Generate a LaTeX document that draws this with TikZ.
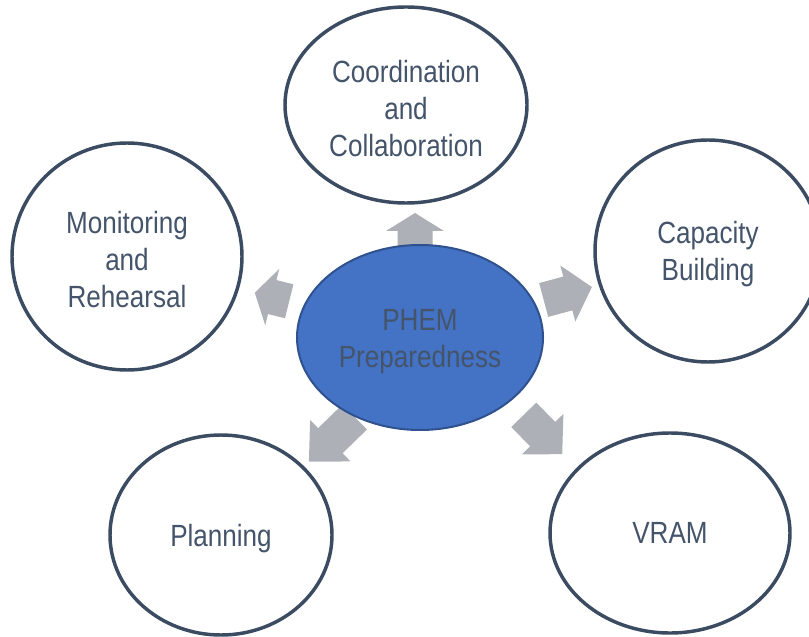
\documentclass[tikz,border=0pt]{standalone}
\usepackage{fontspec}
\setmainfont{Liberation Sans}[FakeStretch=0.85]
\usepackage{tikz}
\usetikzlibrary{shapes.geometric, backgrounds}
\definecolor{mytext}{HTML}{44546A}
\definecolor{myring}{HTML}{3B4B61}
\definecolor{myhub}{HTML}{4472C4}
\definecolor{myhubline}{HTML}{2F528F}
\definecolor{myarrow}{HTML}{ADB0B7}
\tikzset{
  x=0.75pt, y=0.75pt,
  topic/.style={ellipse,draw=myring,line width=2.6pt,fill=white,inner sep=0,
    text=mytext,align=center,font=\fontsize{23}{27.75}\selectfont},
  hub/.style={topic,fill=myhub,draw=myhubline,line width=1.5pt},
  arrow fill/.style={fill=myarrow}
}
\newcommand{\tl}{\rule{0pt}{0.95em}} % lowers the text a little
% block arrow: centre, angle, length, head length
\newcommand{\blockarrow}[4]{%
  \fill[arrow fill, shift={#1}, rotate=#2]
    ({-#3/2},17.5) -- ({#3/2-#4},17.5) -- ({#3/2-#4},29) -- ({#3/2},0)
    -- ({#3/2-#4},-29) -- ({#3/2-#4},-17.5) -- ({-#3/2},-17.5) -- cycle;}

\begin{document}
\begin{tikzpicture}
    \useasboundingbox (0,0) rectangle (809,636);

    % the hub and the five topics
    \node[hub, minimum width=184.5pt, minimum height=138.75pt] (phem) at (420,298.5) {\tl PHEM\\Preparedness};
    \node[topic, minimum width=181.5pt, minimum height=147pt] (coord) at (406,531) {\tl Coordination\\and\\Collaboration};
    \node[topic, minimum width=172.5pt, minimum height=170.25pt] (monit) at (127,379.5) {\tl Monitoring\\and\\Rehearsal};
    \node[topic, minimum width=169.5pt, minimum height=166.5pt] (capac) at (708,385) {\tl Capacity\\Building};
    \node[topic, minimum width=166.5pt, minimum height=150pt] (plann) at (221,101) {\tl Planning};
    \node[topic, minimum width=180pt, minimum height=150pt] (vram) at (670,103) {VRAM};

    % arrows going out of the hub
    \begin{scope}[on background layer]
      \blockarrow{(415,406.5)}{90}{33}{18}
      \blockarrow{(567.8,342.5)}{15}{50}{25}
      \blockarrow{(272,339)}{166}{35.5}{18}
      \blockarrow{(331.8,196.7)}{224.3}{64}{30}
      \blockarrow{(543,201.5)}{-45.7}{55}{28}
    \end{scope}
\end{tikzpicture}
\end{document}
